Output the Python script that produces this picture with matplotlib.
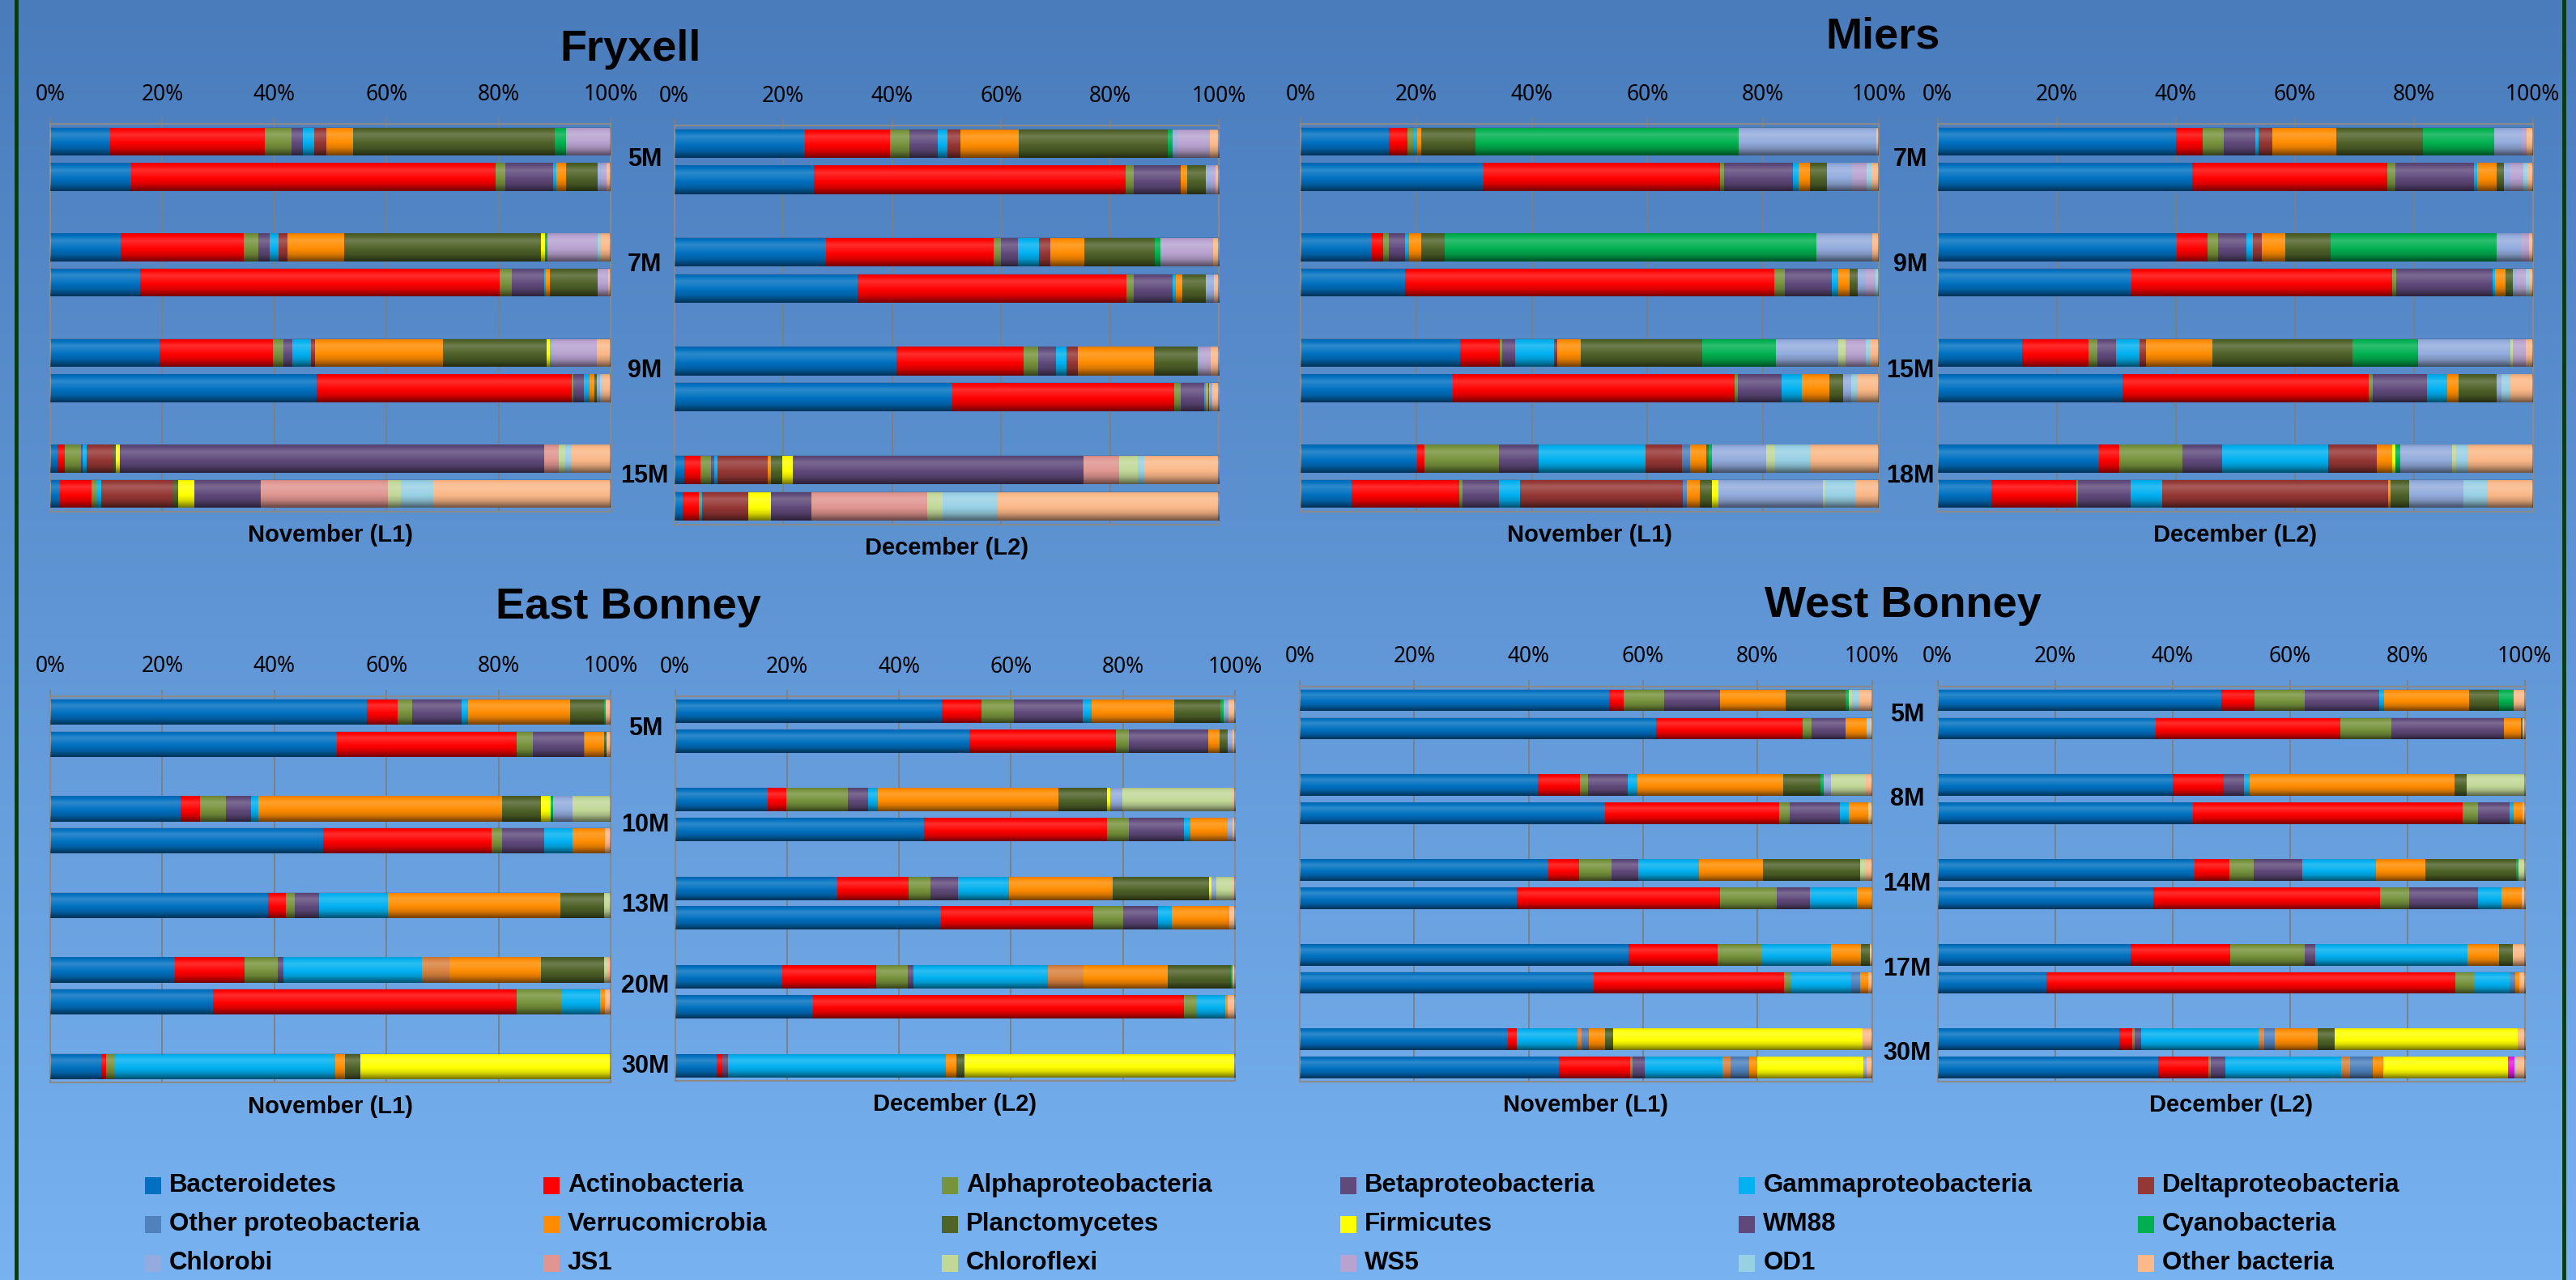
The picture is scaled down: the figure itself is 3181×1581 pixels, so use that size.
import numpy as np
import pandas as pd
import matplotlib
matplotlib.use("Agg")
import matplotlib.pyplot as plt
import matplotlib.transforms as mtransforms
from matplotlib.lines import Line2D
from matplotlib.patches import Rectangle

plt.rcParams['font.family'] = ['Noto Sans', 'DejaVu Sans']
BOLD = ['Liberation Sans', 'DejaVu Sans']

W, H = 3181, 1581

# stacking order (left to right); two small series are not in the legend
codes = ["Bac", "Act", "Alp", "Bet", "Gam", "Del", "Tan", "OPr", "Ver", "Pla",
         "Fir", "WM8", "Cya", "Chb", "JS1", "Chf", "WS5", "Mag", "OD1", "Oth"]
names = ["Bacteroidetes", "Actinobacteria", "Alphaproteobacteria", "Betaproteobacteria",
         "Gammaproteobacteria", "Deltaproteobacteria", None, "Other proteobacteria",
         "Verrucomicrobia", "Planctomycetes", "Firmicutes", "WM88", "Cyanobacteria",
         "Chlorobi", "JS1", "Chloroflexi", "WS5", None, "OD1", "Other bacteria"]
colors = ["#0070C0", "#FF0000", "#77933C", "#604A7B", "#00B0F0", "#953735", "#D9823F",
          "#4F81BD", "#FF8C00", "#4F6228", "#FFFF00", "#5F497A", "#00B050", "#93ACDD",
          "#E09590", "#C2D898", "#B8A2D0", "#E020E0", "#98D0E4", "#FBB888"]

# ---- Fryxell ----
fryxell_depths = ["5M", "7M", "9M", "15M"]
fryxell_nov = [
    dict(Bac=10.7, Act=27.6, Alp=4.7, Bet=2.1, Gam=2.0, Del=2.2, Ver=4.8, Pla=35.9, Cya=2.0, WS5=8.0),
    dict(Bac=14.5, Act=65.0, Alp=1.7, Bet=8.6, Gam=0.5, Ver=1.7, Pla=5.7, Chb=0.8, WS5=0.8, Oth=0.7),
    None,
    dict(Bac=12.6, Act=22.0, Alp=2.6, Bet=1.9, Gam=1.7, Del=1.6, Ver=10.0, Pla=35.2, Fir=0.7, Cya=0.4, WS5=9.0, OD1=0.5, Oth=1.8),
    dict(Bac=16.1, Act=64.1, Alp=2.2, Bet=5.8, Gam=0.3, Ver=0.7, Pla=8.5, WS5=1.9, Oth=0.4),
    None,
    dict(Bac=19.5, Act=20.2, Alp=1.9, Bet=1.6, Gam=3.3, Del=0.8, Ver=22.8, Pla=18.5, Fir=0.5, Chb=0.7, WS5=7.8, Oth=2.4),
    dict(Bac=47.6, Act=45.4, Alp=0.3, Bet=1.9, Gam=1.1, Ver=0.8, Pla=0.5, Chb=0.5, OD1=0.4, Oth=1.5),
    None,
    dict(Bac=1.3, Act=1.3, Alp=2.9, Bet=0.3, Gam=0.7, Del=4.8, Pla=0.4, Fir=0.7, WM8=75.8, JS1=2.5, Chf=1.2, OD1=1.2, Oth=6.9),
    dict(Bac=1.8, Act=5.6, Alp=0.9, Gam=0.8, Del=12.9, Pla=0.9, Fir=2.8, WM8=11.8, JS1=22.8, Chf=2.2, OD1=5.9, Oth=31.6),
]
fryxell_dec = [
    dict(Bac=24.0, Act=15.6, Alp=3.6, Bet=5.1, Gam=1.9, Del=2.3, Ver=10.7, Pla=27.3, Cya=1.0, Chb=0.9, WS5=5.9, Oth=1.7),
    dict(Bac=25.6, Act=57.2, Alp=1.5, Bet=8.6, Ver=1.3, Pla=3.4, Chb=0.9, WS5=0.8, Oth=0.7),
    None,
    dict(Bac=27.9, Act=30.7, Alp=1.3, Bet=3.2, Gam=3.8, Del=2.1, Ver=6.2, Pla=13.0, Cya=1.0, WS5=9.7, Oth=1.1),
    dict(Bac=33.7, Act=49.3, Alp=1.3, Bet=7.1, Gam=0.6, Ver=1.3, Pla=4.3, Chb=1.5, Oth=0.9),
    None,
    dict(Bac=40.8, Act=23.3, Alp=2.7, Bet=3.2, Gam=2.0, Del=2.1, Ver=14.0, Pla=8.0, Chb=0.4, WS5=2.0, Oth=1.5),
    dict(Bac=51.0, Act=40.7, Alp=1.3, Bet=4.3, Gam=0.3, Ver=0.4, Pla=0.2, Chb=0.5, Oth=1.3),
    None,
    dict(Bac=1.9, Act=2.9, Alp=2.0, Bet=0.6, Gam=0.5, Del=9.3, Ver=0.5, Pla=2.2, Fir=1.9, WM8=53.3, JS1=6.6, Chf=3.4, OD1=1.1, Oth=13.8),
    dict(Bac=1.5, Act=3.0, Alp=0.3, Gam=0.4, Del=8.4, Fir=4.2, WM8=7.4, JS1=21.2, Chf=2.8, OD1=10.1, Oth=40.7),
]

# ---- Miers ----
miers_depths = ["7M", "9M", "15M", "18M"]
miers_nov = [
    dict(Bac=15.2, Act=3.3, Alp=1.1, Gam=0.5, Ver=0.8, Pla=9.4, Cya=45.5, Chb=23.8, Oth=0.4),
    dict(Bac=31.6, Act=40.9, Alp=0.8, Bet=11.8, Gam=1.1, Ver=1.9, Pla=2.9, Chb=4.4, WS5=2.5, OD1=0.8, Oth=1.3),
    None,
    dict(Bac=12.3, Act=2.0, Alp=1.0, Bet=2.8, Gam=0.7, Ver=2.0, Pla=4.1, Cya=64.3, Chb=9.7, Oth=1.1),
    dict(Bac=18.1, Act=63.9, Alp=1.8, Bet=8.1, Gam=1.1, Ver=2.0, Pla=1.3, Chb=1.4, WS5=1.7, OD1=0.6),
    None,
    dict(Bac=27.6, Act=6.8, Alp=0.5, Bet=2.2, Gam=6.7, Del=0.6, Ver=4.0, Pla=21.1, Cya=12.7, Chb=10.8, Chf=1.3, WS5=3.4, OD1=0.8, Oth=1.5),
    dict(Bac=26.3, Act=48.7, Alp=0.6, Bet=7.6, Gam=3.5, Ver=4.7, Pla=2.5, Chb=1.3, OD1=1.1, Oth=3.7),
    None,
    dict(Bac=20.1, Act=1.3, Alp=12.9, Bet=6.9, Gam=18.5, Del=6.2, OPr=1.4, Ver=2.8, Pla=0.5, Cya=0.5, Chb=9.4, Chf=1.6, OD1=6.1, Oth=11.8),
    dict(Bac=8.8, Act=18.7, Alp=0.5, Bet=6.3, Gam=3.7, Del=28.1, OPr=0.7, Ver=2.2, Pla=2.1, Fir=1.2, Chb=18.0, Chf=0.5, OD1=5.1, Oth=4.1),
]
miers_dec = [
    dict(Bac=40.1, Act=4.5, Alp=3.5, Bet=5.3, Gam=0.6, Del=2.3, Ver=10.7, Pla=14.6, Cya=11.9, Chb=4.6, WS5=0.9, Oth=1.0),
    dict(Bac=42.8, Act=32.8, Alp=1.3, Bet=13.2, Gam=0.6, Ver=3.2, Pla=1.3, Chb=1.0, WS5=2.2, OD1=0.7, Oth=0.9),
    None,
    dict(Bac=40.2, Act=5.2, Alp=1.7, Bet=4.8, Gam=1.1, Del=1.5, Ver=4.0, Pla=7.6, Cya=27.9, Chb=4.0, WS5=1.4, Oth=0.6),
    dict(Bac=32.6, Act=43.8, Alp=0.7, Bet=16.2, Gam=0.4, Ver=1.7, Pla=1.3, Chb=0.6, WS5=1.6, OD1=0.5, Oth=0.6),
    None,
    dict(Bac=14.2, Act=11.2, Alp=1.5, Bet=3.1, Gam=3.9, Del=1.2, Ver=11.1, Pla=23.5, Cya=11.1, Chb=15.4, Chf=0.5, WS5=2.2, Oth=1.1),
    dict(Bac=31.1, Act=41.3, Alp=0.7, Bet=9.2, Gam=3.4, Ver=1.9, Pla=6.4, Chb=0.8, OD1=1.4, Oth=3.8),
    None,
    dict(Bac=27.1, Act=3.4, Alp=10.7, Bet=6.6, Gam=17.9, Del=8.1, Ver=2.6, Fir=0.5, Cya=0.8, Chb=8.8, Chf=0.6, OD1=2.1, Oth=10.8),
    dict(Bac=9.1, Act=14.3, Alp=0.2, Bet=8.8, Gam=5.3, Del=38.0, Ver=0.4, Pla=3.2, Chb=9.1, OD1=4.1, Oth=7.5),
]

# ---- East Bonney ----
east_depths = ["5M", "10M", "13M", "20M", "30M"]
east_nov = [
    dict(Bac=56.5, Act=5.5, Alp=2.6, Bet=8.8, Gam=1.2, Ver=18.2, Pla=6.1, Cya=0.3, Oth=0.8),
    dict(Bac=51.1, Act=32.1, Alp=2.9, Bet=9.1, Gam=0.2, Ver=3.5, Pla=0.4, Oth=0.7),
    None,
    dict(Bac=23.3, Act=3.5, Alp=4.5, Bet=4.5, Gam=1.4, Ver=43.4, Pla=7.0, Fir=1.7, Cya=0.5, Chb=3.4, Chf=6.8),
    dict(Bac=48.7, Act=30.1, Alp=1.8, Bet=7.5, Gam=5.1, Ver=5.8, Oth=1.0),
    None,
    dict(Bac=38.9, Act=3.2, Alp=1.6, Bet=4.3, Gam=12.2, Ver=30.9, Pla=7.8, Chf=1.1),
    None,
    dict(Bac=22.2, Act=12.5, Alp=5.9, Bet=1.0, Gam=24.8, Tan=4.8, Ver=16.4, Pla=11.3, Chf=0.5, Oth=0.6),
    dict(Bac=29.0, Act=54.2, Alp=8.0, Gam=6.9, Ver=0.9, Oth=1.0),
    None,
    dict(Bac=9.1, Act=0.9, Alp=1.4, Gam=39.5, Ver=1.7, Pla=2.8, Fir=44.6),
]
east_dec = [
    dict(Bac=47.7, Act=7.1, Alp=5.7, Bet=12.3, Gam=1.6, Ver=14.7, Pla=8.3, Cya=0.6, Chb=0.9, Oth=1.1),
    dict(Bac=52.5, Act=26.2, Alp=2.3, Bet=14.2, Ver=2.1, Pla=1.4, Chb=0.9, Oth=0.4),
    None,
    dict(Bac=16.6, Act=3.3, Alp=10.9, Bet=3.7, Gam=1.7, Ver=32.3, Pla=8.6, Fir=0.6, Chb=2.2, Chf=19.6, Oth=0.5),
    dict(Bac=44.5, Act=32.6, Alp=3.9, Bet=9.9, Gam=1.2, Ver=6.6, Chb=0.8, Oth=0.5),
    None,
    dict(Bac=29.0, Act=12.7, Alp=3.9, Bet=5.0, Gam=9.0, Ver=18.5, Pla=17.3, Fir=0.4, Chb=0.9, Chf=2.9, Oth=0.4),
    dict(Bac=47.5, Act=27.2, Alp=5.4, Bet=6.2, Gam=2.4, Ver=10.3, Oth=1.0),
    None,
    dict(Bac=19.2, Act=16.7, Alp=5.6, Bet=1.1, Gam=24.0, Tan=6.3, Ver=15.1, Pla=11.3, Cya=0.3, Oth=0.4),
    dict(Bac=24.7, Act=66.2, Alp=2.3, Gam=5.0, Ver=0.5, Oth=1.3),
    None,
    dict(Bac=7.5, Act=1.0, Bet=0.9, Gam=38.9, Ver=1.9, Pla=1.5, Fir=48.3),
]

# ---- West Bonney ----
west_depths = ["5M", "8M", "14M", "17M", "30M"]
west_nov = [
    dict(Bac=54.1, Act=2.5, Alp=7.1, Bet=9.7, Ver=11.5, Pla=10.5, Cya=0.5, Chf=0.6, OD1=1.3, Oth=2.2),
    dict(Bac=62.3, Act=25.6, Alp=1.6, Bet=5.9, Ver=3.7, OD1=0.5, Oth=0.4),
    None,
    dict(Bac=41.6, Act=7.3, Alp=1.5, Bet=6.9, Gam=1.7, Ver=25.5, Pla=6.5, Cya=0.6, Chb=1.2, Chf=6.1, Oth=1.1),
    dict(Bac=53.4, Act=30.4, Alp=1.8, Bet=8.8, Gam=1.6, Ver=3.3, Chf=0.3, Oth=0.4),
    None,
    dict(Bac=43.4, Act=5.4, Alp=5.7, Bet=4.6, Gam=10.6, Ver=11.3, Pla=17.0, Chf=0.9, Oth=1.1),
    dict(Bac=37.9, Act=35.5, Alp=9.9, Bet=5.8, Gam=8.2, Ver=2.7),
    None,
    dict(Bac=57.5, Act=15.5, Alp=7.6, Gam=12.2, Ver=5.3, Pla=1.5, Oth=0.4),
    dict(Bac=51.4, Act=33.3, Alp=1.2, Gam=10.5, OPr=1.6, Ver=1.3, Oth=0.7),
    None,
    dict(Bac=36.4, Act=1.5, Gam=10.7, Tan=0.7, OPr=1.2, Ver=2.9, Pla=1.3, Fir=43.7, Oth=1.6),
    dict(Bac=45.3, Act=12.4, Alp=0.5, Bet=2.1, Gam=13.6, Tan=1.4, OPr=3.2, Ver=1.5, Fir=18.5, Chb=0.6, Oth=0.9),
]
west_dec = [
    dict(Bac=48.4, Act=5.6, Alp=8.5, Bet=12.7, Gam=0.9, Ver=14.4, Pla=5.2, Cya=2.4, Oth=1.9),
    dict(Bac=37.2, Act=31.4, Alp=8.7, Bet=19.2, Ver=2.9, Pla=0.2, Oth=0.4),
    None,
    dict(Bac=40.1, Act=8.7, Bet=3.4, Gam=0.9, Ver=35.0, Pla=2.0, Chf=9.9),
    dict(Bac=43.5, Act=45.9, Alp=2.7, Bet=5.4, Gam=0.6, Ver=1.5, Oth=0.4),
    None,
    dict(Bac=43.8, Act=5.9, Alp=4.1, Bet=8.3, Gam=12.6, Ver=8.4, Pla=15.5, Cya=0.4, Chf=1.0),
    dict(Bac=36.8, Act=38.5, Alp=5.1, Bet=11.7, Gam=4.0, Ver=3.4, Oth=0.5),
    None,
    dict(Bac=32.9, Act=17.0, Alp=12.6, Bet=1.8, Gam=26.0, Ver=5.4, Pla=2.3, Oth=2.0),
    dict(Bac=18.6, Act=69.6, Alp=3.2, Gam=6.1, OPr=0.9, Ver=0.7, Oth=0.9),
    None,
    dict(Bac=30.9, Act=2.2, Alp=0.5, Bet=1.1, Gam=20.0, Tan=0.9, OPr=1.8, Ver=7.3, Pla=3.0, Fir=31.1, Oth=1.2),
    dict(Bac=37.6, Act=8.5, Alp=0.5, Bet=2.4, Gam=19.7, Tan=1.6, OPr=3.8, Ver=1.8, Fir=21.3, Mag=1.0, OD1=0.4, Oth=1.4),
]

fig = plt.figure(figsize=(W / 100, H / 100), dpi=100)

# background gradient
bg = fig.add_axes([0, 0, 1, 1], zorder=-10)
top_c = np.array([74, 124, 188]) / 255
bot_c = np.array([120, 178, 240]) / 255
t = np.linspace(0, 1, 256)[:, None, None]
bg.imshow(top_c * (1 - t) + bot_c * t, aspect='auto', extent=(0, 1, 0, 1))
bg.axis('off')

fig.add_artist(Line2D([20 / W, 20 / W], [0, 1], color='#0B3A12', linewidth=3.5))
fig.add_artist(Line2D([3166 / W, 3166 / W], [0, 1], color='#0B3A12', linewidth=3.5))

# glossy shading applied on top of each bar (white highlight, dark bottom)
gt = np.linspace(0, 1, 64)
gv = np.interp(gt, [0, 0.08, 0.25, 0.5, 0.75, 1.0], [-0.12, 0.0, 0.18, 0.04, -0.15, -0.55])
shade = np.zeros((64, 1, 4))
shade[:, 0, :3] = (gv > 0)[:, None] * 1.0
shade[:, 0, 3] = np.abs(gv)


def draw_panel(bars, box, frac, xlabel):
    x0, x1, y0, y1 = box
    ax = fig.add_axes([x0 / W, 1 - y1 / H, (x1 - x0) / W, (y1 - y0) / H])
    ax.patch.set_alpha(0)
    slots = [i for i, b in enumerate(bars) if b is not None]
    df = pd.DataFrame([b for b in bars if b is not None], columns=codes).fillna(0)
    df = df.div(df.sum(axis=1), axis=0) * 100
    left = np.zeros(len(df))
    for code, col in zip(codes, colors):
        ax.barh(slots, df[code], left=left, height=frac, color=col, linewidth=0, zorder=2)
        left += df[code].values
    for s in slots:
        ax.imshow(shade, extent=(0, 100, s + frac / 2, s - frac / 2), aspect='auto',
                  interpolation='bilinear', zorder=3)
    ax.set_xlim(0, 100)
    ax.set_ylim(len(bars) - 0.5, -0.5)
    ax.set_axisbelow(True)
    ax.grid(axis='x', color='#7f7f7f', linewidth=1.3)
    ax.xaxis.tick_top()
    ax.set_xticks(range(0, 101, 20))
    ax.set_xticklabels([f"{v}%" for v in range(0, 101, 20)])
    ax.tick_params(axis='x', direction='out', length=6, width=1.2, color='#7f7f7f',
                   pad=10, labelsize=19)
    ax.set_yticks([])
    for sp in ax.spines.values():
        sp.set_color('#8a8a8a')
        sp.set_linewidth(1.5)
    ax.set_xlabel(xlabel, fontsize=21, fontweight='bold', family=BOLD, labelpad=11)
    return ax


def depth_labels(ax, bars, depths, xmid):
    groups, cur = [], []
    for i, b in enumerate(bars):
        if b is None:
            if cur:
                groups.append(cur)
            cur = []
        else:
            cur.append(i)
    if cur:
        groups.append(cur)
    tr = mtransforms.blended_transform_factory(fig.transFigure, ax.transData)
    for g, d in zip(groups, depths):
        fig.text(xmid / W, np.mean(g), d, transform=tr, ha='center', va='center',
                 fontsize=22, fontweight='bold', family=BOLD)


lakes = [
    ("Fryxell", (779, 75), fryxell_nov, fryxell_dec, fryxell_depths,
     (62, 754, 153, 632), (832.5, 1505.5, 154.8, 647.6), 0.79, 0.79),
    ("Miers", (2325, 60), miers_nov, miers_dec, miers_depths,
     (1606, 2320, 153, 632), (2392.5, 3127.5, 153, 632), 0.79, 0.79),
    ("East Bonney", (776, 764), east_nov, east_dec, east_depths,
     (62, 754, 859.7, 1337.3), (833.6, 1525, 860.3, 1334.5), 0.78, 0.795),
    ("West Bonney", (2350, 762), west_nov, west_dec, west_depths,
     (1605, 2311.6, 847.6, 1336.2), (2392.5, 3117.6, 847.6, 1336.2), 0.77, 0.77),
]

for title, (tx, ty), nov, dec, depths, box_n, box_d, fn, fd in lakes:
    ax_n = draw_panel(nov, box_n, fn, "November (L1)")
    draw_panel(dec, box_d, fd, "December (L2)")
    depth_labels(ax_n, nov, depths, (box_n[1] + box_d[0]) / 2 + 3)
    fig.text(tx / W, 1 - ty / H, title, ha='center', va='baseline',
             fontsize=39, fontweight='bold', family=BOLD)

# legend, row by row
legend_items = [(n, c) for n, c in zip(names, colors) if n is not None]
for i, (n, c) in enumerate(legend_items):
    row, col = divmod(i, 6)
    x = 178.6 + col * 492.2
    yc = 1464 + row * 48
    fig.add_artist(Rectangle((x / W, 1 - (yc + 10.5) / H), 20 / W, 21 / H,
                             transform=fig.transFigure, facecolor=c, edgecolor='none'))
    fig.text((x + 30) / W, 1 - yc / H, n, ha='left', va='center',
             fontsize=22.5, fontweight='bold', family=BOLD)

fig.savefig("out.png", dpi=100)
